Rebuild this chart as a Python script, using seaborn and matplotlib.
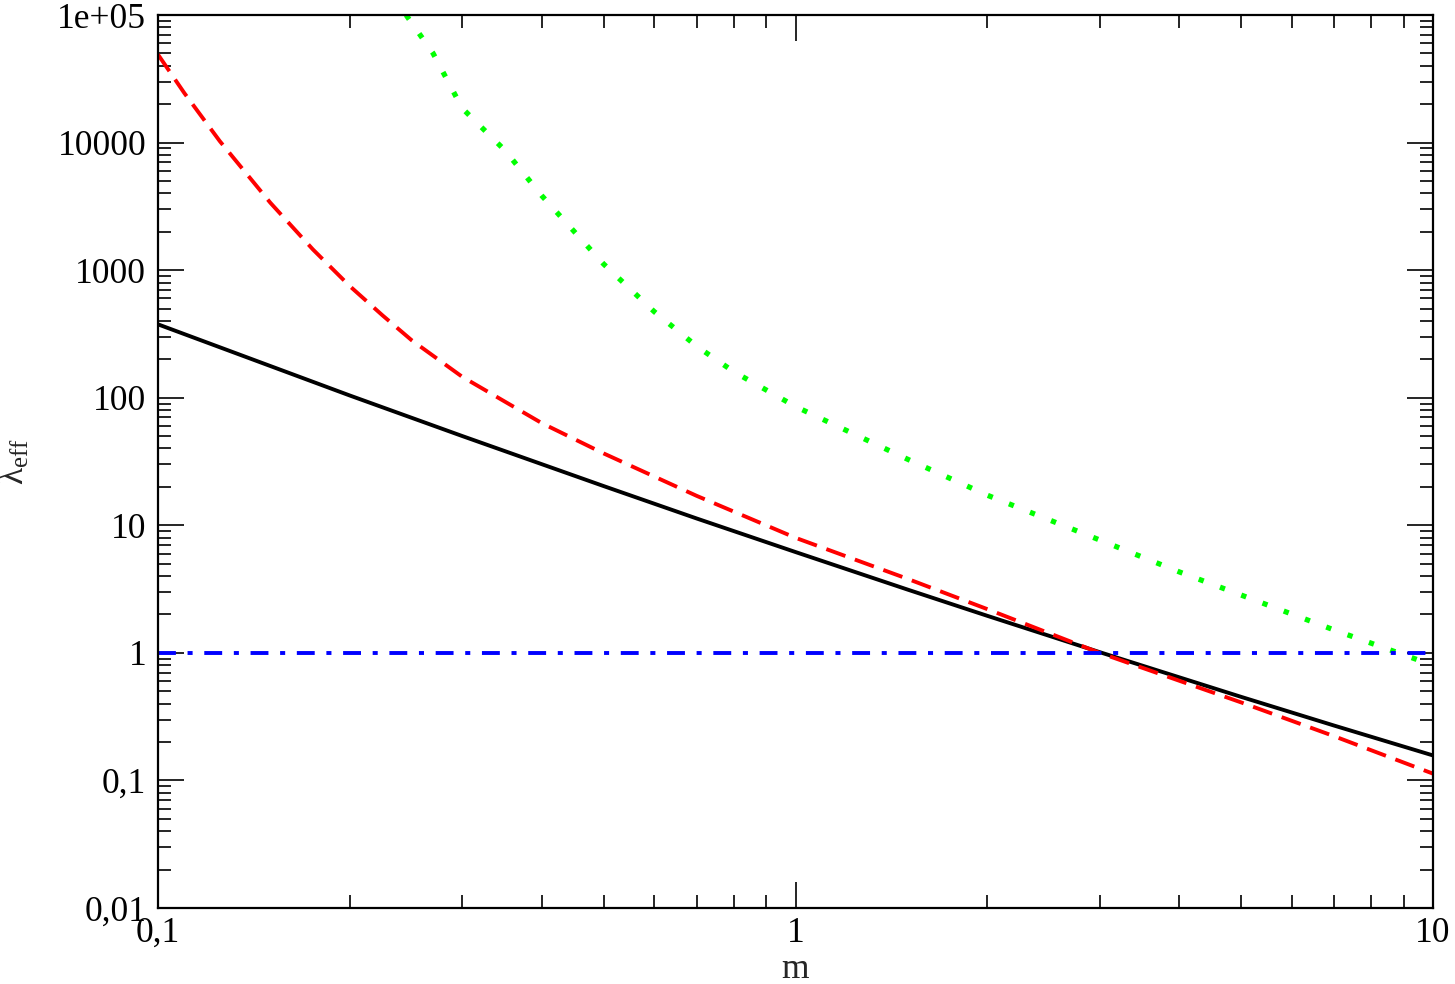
import matplotlib
matplotlib.use("Agg")
import matplotlib.pyplot as plt
import seaborn as sns

# ---- data ----
m_black = [0.1, 0.2, 0.3, 0.5, 0.7, 1.0, 1.5, 2.0, 3.0, 5.0, 7.0, 10.0]
lam_black = [376, 104, 50.1, 20.3, 11.3, 6.17, 3.13, 1.95, 1.013, 0.452, 0.269, 0.157]

m_red = [0.1, 0.11, 0.125, 0.15, 0.175, 0.2, 0.225, 0.25, 0.3, 0.4, 0.5,
         0.7, 1.0, 1.5, 2.0, 3.0, 5.0, 7.0, 10.0]
lam_red = [49000, 24400, 10260, 3380, 1452, 748, 442, 282, 146, 63.2, 36.6,
           17.0, 7.98, 3.8, 2.20, 1.0, 0.409, 0.222, 0.113]

m_green = [0.245, 0.27, 0.3, 0.35, 0.4, 0.5, 0.6, 0.7, 0.8, 1.0, 1.5, 2.0,
           3.0, 4.0, 5.0, 7.0, 9.6]
lam_green = [100000, 50200, 18600, 8700, 3830, 1117, 474, 253, 160, 85.3,
             32.9, 17.2, 7.67, 4.31, 2.84, 1.51, 0.86]

m_blue = [0.1, 10.0]
lam_blue = [1.0, 1.0]

y_ticks = [0.01, 0.1, 1, 10, 100, 1000, 10000, 100000]
y_ticklabels = ["0,01", "0,1", "1", "10", "100", "1000", "10000", "1e+05"]
x_ticks = [0.1, 1, 10]
x_ticklabels = ["0,1", "1", "10"]

# ---- style ----
sns.set_style("ticks")
plt.rcParams["font.family"] = ["Liberation Serif", "DejaVu Serif"]
plt.rcParams["mathtext.fontset"] = "custom"
plt.rcParams["mathtext.rm"] = "Liberation Serif"
plt.rcParams["mathtext.it"] = "Liberation Serif:italic"

fig = plt.figure(figsize=(14.55, 9.84), dpi=100)
ax = fig.add_axes([158 / 1455, (984 - 908) / 984, 1275 / 1455, 893 / 984])

lw = 2.8
sns.lineplot(x=m_black, y=lam_black, ax=ax, color="black", linewidth=lw,
             sort=False, estimator=None)
sns.lineplot(x=m_red, y=lam_red, ax=ax, color="#ff0000", linewidth=lw,
             linestyle=(0, (5.2, 2.6)), sort=False, estimator=None)
sns.lineplot(x=m_green, y=lam_green, ax=ax, color="#00ff00", linewidth=3.8,
             linestyle=(0, (1.0, 3.3)), sort=False, estimator=None)
sns.lineplot(x=m_blue, y=lam_blue, ax=ax, color="#0000ff", linewidth=lw,
             linestyle=(0, (4.6, 3.0, 1.3, 3.0)), sort=False, estimator=None)

ax.set_xscale("log")
ax.set_yscale("log")
ax.set_xlim(0.1, 10)
ax.set_ylim(0.01, 1e5)

ax.set_xticks(x_ticks, x_ticklabels)
ax.set_yticks(y_ticks, y_ticklabels)
ax.xaxis.set_minor_locator(matplotlib.ticker.LogLocator(base=10, subs=range(2, 10), numticks=20))
ax.yaxis.set_minor_locator(matplotlib.ticker.LogLocator(base=10, subs=range(2, 10), numticks=20))
ax.xaxis.set_minor_formatter(matplotlib.ticker.NullFormatter())
ax.yaxis.set_minor_formatter(matplotlib.ticker.NullFormatter())

ax.tick_params(which="both", direction="in", top=True, right=True,
               bottom=True, left=True, colors="black", labelsize=25.5)
ax.tick_params(which="major", length=18.7, width=1.2)
ax.tick_params(which="minor", length=9.4, width=1.2)
ax.tick_params(axis="y", which="major", pad=8.5)
ax.tick_params(axis="x", which="major", pad=6.5)

for s in ax.spines.values():
    s.set_linewidth(1.6)
    s.set_color("black")
    s.set_visible(True)

ax.set_xlabel("m", fontsize=25.5)
ax.set_ylabel(r"$\mathrm{λ}_{\mathrm{eff}}$", fontsize=25.5)
ax.xaxis.set_label_coords(0.5, -0.050)
ax.yaxis.set_label_coords(-0.099, 0.5)
ax.grid(False)

fig.savefig("out.png", dpi=100)
